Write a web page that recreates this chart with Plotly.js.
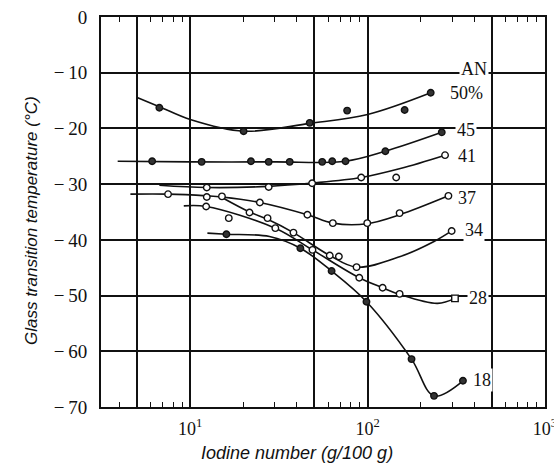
<!DOCTYPE html>
<html>
<head>
<meta charset="utf-8">
<script src="https://cdn.plot.ly/plotly-3.0.1.min.js"></script>
<style>html,body{margin:0;padding:0;background:#fff}#chart{width:554px;height:465px}</style>
</head>
<body>
<div id="chart"></div>
<script>
// ---- data (iodine number g/100 g, Tg °C) ----
const an50X = [6.7, 20.0, 47.2, 76.7, 161.8, 227];
const an50Y = [-16.3, -20.5, -19.0, -16.8, -16.7, -13.6];
const an50CurveX = [5.06, 6.7, 10, 20, 47.2, 100, 227];
const an50CurveY = [-14.5, -16.1, -18.4, -20.5, -19.1, -17.5, -13.6];

const an45X = [6.1, 11.6, 22.0, 27.7, 36.4, 55.5, 63.2, 75.1, 126, 262];
const an45Y = [-25.9, -26.0, -25.9, -26.0, -26.0, -26.0, -25.9, -25.9, -24.1, -20.7];
const an45CurveX = [3.9, 10, 30, 75, 126, 262];
const an45CurveY = [-25.9, -26.0, -26.0, -25.9, -24.1, -20.7];

const an41X = [12.4, 27.7, 48.7, 92.1, 145, 273.5];
const an41Y = [-30.6, -30.5, -29.85, -28.8, -28.8, -24.8];
const an41CurveX = [6.7, 12.4, 27.7, 48.7, 92.1, 153, 273.5];
const an41CurveY = [-30.2, -30.6, -30.4, -29.8, -28.8, -27.2, -24.8];

const an37X = [7.5, 12.4, 15.1, 24.7, 45.8, 63.7, 99.6, 151.6, 285.7];
const an37Y = [-31.8, -32.3, -32.2, -33.3, -35.5, -37.0, -37.0, -35.2, -32.1];
const an37CurveX = [4.6, 7.5, 12.4, 15.1, 24.7, 45.8, 63.7, 99.6, 151.6, 285.7];
const an37CurveY = [-31.8, -31.8, -32.1, -32.3, -33.3, -35.5, -37.0, -37.1, -35.5, -32.1];

const an34X = [16.5, 21.6, 27.3, 38.2, 61.2, 68.9, 86.7, 298];
const an34Y = [-36.1, -35.1, -36.1, -38.7, -42.8, -43.0, -44.9, -38.4];
const an34CurveX = [15.1, 21.6, 27.3, 38.2, 61.2, 86.7, 153, 237, 298];
const an34CurveY = [-32.4, -35.0, -36.3, -38.7, -42.8, -44.9, -43.0, -40.3, -38.4];

const an28X = [12.3, 30.2, 48.9, 89.8, 121.6, 151.6, 311];
const an28Y = [-34.0, -37.9, -41.8, -46.8, -48.6, -49.7, -50.5];
const an28CurveX = [9.2, 12.3, 30.2, 48.9, 89.8, 121.6, 151.6, 248, 311];
const an28CurveY = [-33.9, -34.0, -37.9, -41.8, -46.8, -48.6, -49.8, -51.4, -50.5];

const an18X = [16.0, 41.8, 62.7, 98.6, 177, 237, 345];
const an18Y = [-39.0, -41.5, -45.6, -51.1, -61.4, -68.0, -65.3];
const an18CurveX = [12.5, 16.0, 28, 41.8, 62.7, 98.6, 177, 237, 345];
const an18CurveY = [-38.8, -39.0, -39.4, -41.5, -45.6, -51.1, -61.4, -68.0, -65.3];

const seriesLabels = ['AN', '50%', '45', '41', '37', '34', '28', '18'];
const xTickVals = [10, 100, 1000];
const xTickText = ['10<sup>1</sup>', '10<sup>2</sup>', '10<sup>3</sup>'];
const xExtraGridVals = [5, 50, 500];
const xMinorVals = [4, 6, 7, 8, 9, 20, 30, 40, 60, 70, 80, 90, 200, 300, 400, 600, 700, 800, 900];
const yTickVals = [-70, -60, -50, -40, -30, -20, -10, 0];
const yTickText = ['\u2212\u200970', '\u2212\u200960', '\u2212\u200950', '\u2212\u200940', '\u2212\u200930', '\u2212\u200920', '\u2212\u200910', '0'];

// ---- traces ----
const series = [
  {cx: an50CurveX, cy: an50CurveY, px: an50X, py: an50Y, filled: true},
  {cx: an45CurveX, cy: an45CurveY, px: an45X, py: an45Y, filled: true},
  {cx: an41CurveX, cy: an41CurveY, px: an41X, py: an41Y, filled: false},
  {cx: an37CurveX, cy: an37CurveY, px: an37X, py: an37Y, filled: false},
  {cx: an34CurveX, cy: an34CurveY, px: an34X, py: an34Y, filled: false},
  {cx: an28CurveX, cy: an28CurveY, px: an28X, py: an28Y, filled: false, lastSquare: true},
  {cx: an18CurveX, cy: an18CurveY, px: an18X, py: an18Y, filled: true}
];
const traces = [];
series.forEach(s => {
  traces.push({x: s.cx, y: s.cy, mode: 'lines', type: 'scatter',
    line: {color: '#111', width: 1.6, shape: 'spline', smoothing: 1}, hoverinfo: 'skip'});
});
series.forEach(s => {
  const sym = s.px.map((v, i) => (s.lastSquare && i === s.px.length - 1) ? 'square' : 'circle');
  traces.push({x: s.px, y: s.py, mode: 'markers', type: 'scatter',
    marker: {symbol: sym, size: 6.5, color: s.filled ? '#333' : '#fff', line: {color: '#111', width: 1.4}}});
});
// empty trace to carry the overlay axis holding the extra grid lines (5, 50, 500)
traces.push({x: [], y: [], xaxis: 'x2', yaxis: 'y', mode: 'markers', type: 'scatter', hoverinfo: 'skip'});

// label positions (log10 x for log axis)
const labelPos = [[2.60, -9.4], [2.558, -13.6], [2.554, -20.3], [2.558, -25.0], [2.558, -32.5], [2.60, -38.2], [2.623, -50.5], [2.648, -65.2]];
const annotations = seriesLabels.map((t, i) => ({
  x: labelPos[i][0], y: labelPos[i][1], xref: 'x', yref: 'y', text: t, showarrow: false,
  xanchor: 'center', yanchor: 'middle', bgcolor: '#fff', borderpad: 1,
  font: {family: 'Liberation Serif, serif', size: 18, color: '#111'}
}));
annotations.push({
  xref: 'paper', yref: 'paper', x: 0.441, y: -0.118, text: 'Iodine number (g/100 g)', showarrow: false,
  xanchor: 'center', yanchor: 'middle', font: {family: 'Liberation Sans, sans-serif', size: 18, color: '#111', style: 'italic'}
});
annotations.push({
  xref: 'paper', yref: 'paper', x: -0.158, y: 0.479, text: 'Glass transition temperature (°C)', showarrow: false,
  textangle: -90, xanchor: 'center', yanchor: 'middle', font: {family: 'Liberation Sans, sans-serif', size: 17, color: '#111', style: 'italic'}
});

const xRange = [0.497, 3.0005];
const layout = {
  width: 554, height: 465,
  margin: {l: 101, r: 9, t: 17, b: 58},
  paper_bgcolor: '#fff', plot_bgcolor: '#fff',
  showlegend: false,
  font: {family: 'Liberation Serif, serif', size: 18, color: '#111'},
  xaxis: {
    type: 'log', range: xRange, tickmode: 'array', tickvals: xTickVals, ticktext: xTickText,
    showgrid: true, gridcolor: '#111', gridwidth: 2, zeroline: false,
    showline: true, linecolor: '#111', linewidth: 2, mirror: 'allticks', ticks: '',
    ticklabelstandoff: 4, ticklabeloverflow: 'allow',
    minor: {tickmode: 'array', tickvals: xMinorVals, ticks: 'inside', ticklen: 5, tickcolor: '#111', tickwidth: 1, showgrid: false},
    tickfont: {family: 'Liberation Serif, serif', size: 18, color: '#111'}
  },
  xaxis2: {
    type: 'log', range: xRange, overlaying: 'x', anchor: 'y', tickmode: 'array', tickvals: xExtraGridVals,
    showticklabels: false, ticks: '', showgrid: true, gridcolor: '#111', gridwidth: 2, zeroline: false, showline: false
  },
  yaxis: {
    range: [-70, 0], tickmode: 'array', tickvals: yTickVals, ticktext: yTickText,
    showgrid: true, gridcolor: '#111', gridwidth: 2, zeroline: false,
    showline: true, linecolor: '#111', linewidth: 2, mirror: true, ticks: '',
    ticklabelstandoff: 8,
    tickfont: {family: 'Liberation Serif, serif', size: 19, color: '#111'}
  },
  annotations: annotations
};
Plotly.newPlot('chart', traces, layout, {displayModeBar: false, staticPlot: true});
</script>
</body>
</html>
